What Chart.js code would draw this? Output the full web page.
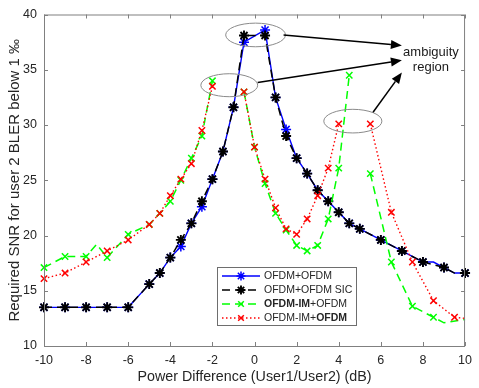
<!DOCTYPE html>
<html><head><meta charset="utf-8">
<script src="https://cdn.jsdelivr.net/npm/chart.js@4.4.1/dist/chart.umd.min.js"></script>
<style>html,body{margin:0;padding:0;background:#fff;}canvas{display:block;}</style>
</head><body>
<canvas id="c" width="479" height="388"></canvas>
<script>
// ---------------- data ----------------
const xTicks = [-10, -8, -6, -4, -2, 0, 2, 4, 6, 8, 10];
const yTicks = [10, 15, 20, 25, 30, 35, 40];

const seriesLabels = ['OFDM+OFDM', 'OFDM+OFDM SIC', '**OFDM-IM**+OFDM', 'OFDM-IM+**OFDM**'];

const blueX = [-10,-9,-8,-7,-6,-5,-4.5,-4,-3.5,-3,-2.5,-2,-1.5,-1,-0.5,0.5,1,1.5,2,2.5,3,3.5,4,4.5,5,6,7,8,8.5,9,9.5,10];
const blueY = [13.5,13.5,13.5,13.5,13.5,15.6,16.6,18.0,19.0,21.1,22.6,25.1,27.6,31.6,37.5,38.6,32.5,29.6,27.0,25.6,24.1,23.1,22.1,21.1,20.6,19.6,18.6,17.6,17.6,17.1,16.6,16.6];
const blueUnmarked = [8.5, 9.5];

const blackX = [-10,-9,-8,-7,-6,-5,-4.5,-4,-3.5,-3,-2.5,-2,-1.5,-1,-0.5,0.5,1,1.5,2,2.5,3,3.5,4,4.5,5,6,7,8,9,9.5,10];
const blackY = [13.5,13.5,13.5,13.5,13.5,15.6,16.6,18.0,19.6,21.1,23.1,25.1,27.6,31.6,38.1,38.1,32.5,29.0,27.0,25.6,24.1,23.1,22.1,21.1,20.6,19.6,18.6,17.6,17.1,16.6,16.6];
const blackUnmarked = [9.5];

const greenX = [-10,-9,-8,-7.5,-7,-6,-5,-4.5,-4,-3.5,-3,-2.5,-2,-1,-0.5,0,0.5,1,1.5,2,2.5,3,3.5,4,4.5,5,5.5,6.5,7.5,8.5,9,10];
const greenY = [17.1,18.1,18.1,19.2,18.0,20.1,21.0,22.0,23.1,25.0,27.0,29.0,34.0,null,33.0,28.0,24.7,22.0,20.5,19.1,18.6,19.1,21.5,26.1,34.5,null,25.6,17.6,13.6,12.6,12.1,12.4];
const greenUnmarked = [-7.5, 9, 10];

const redX = [-10,-9,-8,-7,-6,-5,-4.5,-4,-3.5,-3,-2.5,-2,-1,-0.5,0,0.5,1,1.5,2,2.5,3,3.5,4,5,5.5,6.5,7.5,8.5,9.5,10];
const redY = [16.1,16.6,17.6,18.6,19.6,21.0,22.0,23.6,25.1,26.5,29.5,33.5,null,33.0,28.0,25.1,22.5,20.6,20.1,21.5,23.6,26.1,30.1,null,30.1,22.1,17.6,14.1,12.6,12.5];
const redUnmarked = [10];

// annotation geometry (data units)
const annotEllipses = [
  {x: 0.05, y: 38.15, rx: 1.42, ry: 1.07},
  {x: -1.2, y: 33.6, rx: 1.35, ry: 1.04},
  {x: 4.67, y: 30.35, rx: 1.38, ry: 1.07}
];
const annotArrows = [
  {x1: 1.38, y1: 38.15, x2: 7.0, y2: 37.2},
  {x1: 0.15, y1: 33.85, x2: 7.0, y2: 35.85},
  {x1: 5.63, y1: 31.15, x2: 7.0, y2: 34.75}
];
const annotTextLines = ['ambiguity', 'region'];
const annotTextAnchor = {x: 8.38, y: 36.6};

// ---------------- helpers ----------------
const FONT = "'Liberation Sans', Arial, Helvetica, sans-serif";
const AXIS_COLOR = '#808080';
const TEXT_COLOR = '#262626';
const mk = (xs, ys) => xs.map((x, i) => ({x: x, y: ys[i]}));
const radiusFn = (unmarked, r) => ctx => (ctx.raw && unmarked.includes(ctx.raw.x)) ? 0 : r;

const framePlugin = {
  id: 'frame',
  afterDraw(chart) {
    const {ctx, chartArea: a, scales} = chart;
    ctx.save();
    ctx.strokeStyle = AXIS_COLOR;
    ctx.lineWidth = 1;
    ctx.strokeRect(a.left + 0.5, a.top + 0.5, a.right - a.left - 1, a.bottom - a.top);
    const tl = 4;
    ctx.beginPath();
    xTicks.forEach(v => {
      const px = Math.round(scales.x.getPixelForValue(v)) + 0.5;
      ctx.moveTo(px, a.bottom); ctx.lineTo(px, a.bottom - tl);
      ctx.moveTo(px, a.top); ctx.lineTo(px, a.top + tl);
    });
    yTicks.forEach(v => {
      const py = Math.round(scales.y.getPixelForValue(v)) + 0.5;
      ctx.moveTo(a.left, py); ctx.lineTo(a.left + tl, py);
      ctx.moveTo(a.right, py); ctx.lineTo(a.right - tl, py);
    });
    ctx.stroke();
    ctx.restore();
  }
};

function drawRich(ctx, text, x, y, size) {
  const parts = text.split('**');
  let cx = x;
  parts.forEach((p, i) => {
    if (!p) return;
    ctx.font = (i % 2 === 1 ? 'bold ' : '') + size + 'px ' + FONT;
    ctx.fillText(p, cx, y);
    cx += ctx.measureText(p).width;
  });
}

const annotPlugin = {
  id: 'annot',
  afterDraw(chart) {
    const {ctx, scales} = chart;
    const X = v => scales.x.getPixelForValue(v);
    const Y = v => scales.y.getPixelForValue(v);
    ctx.save();
    // ellipses
    ctx.strokeStyle = '#8a8a8a';
    ctx.lineWidth = 1;
    annotEllipses.forEach(e => {
      const cx = X(e.x), cy = Y(e.y);
      const rx = Math.abs(X(e.x + e.rx) - cx), ry = Math.abs(Y(e.y + e.ry) - cy);
      ctx.beginPath();
      ctx.ellipse(cx, cy, rx, ry, 0, 0, Math.PI * 2);
      ctx.stroke();
    });
    // arrows
    ctx.strokeStyle = '#000';
    ctx.fillStyle = '#000';
    ctx.lineWidth = 1.5;
    annotArrows.forEach(a => {
      const x1 = X(a.x1), y1 = Y(a.y1), x2 = X(a.x2), y2 = Y(a.y2);
      const ang = Math.atan2(y2 - y1, x2 - x1);
      const hl = 11, hw = 4.5;
      const bx = x2 - hl * Math.cos(ang), by = y2 - hl * Math.sin(ang);
      ctx.beginPath(); ctx.moveTo(x1, y1); ctx.lineTo(bx, by); ctx.stroke();
      ctx.beginPath();
      ctx.moveTo(x2, y2);
      ctx.lineTo(bx + hw * Math.sin(ang), by - hw * Math.cos(ang));
      ctx.lineTo(bx - hw * Math.sin(ang), by + hw * Math.cos(ang));
      ctx.closePath(); ctx.fill();
    });
    // text
    ctx.fillStyle = '#1a1a1a';
    ctx.font = '13px ' + FONT;
    ctx.textAlign = 'center';
    ctx.textBaseline = 'middle';
    const tx = X(annotTextAnchor.x), ty = Y(annotTextAnchor.y);
    annotTextLines.forEach((t, i) => ctx.fillText(t, tx, ty + i * 15.5));

    // legend
    const lx = 217, ly = 267, lw = 139, lh = 58;
    ctx.fillStyle = '#fff';
    ctx.fillRect(lx, ly, lw, lh);
    ctx.strokeStyle = '#6e6e6e';
    ctx.lineWidth = 1;
    ctx.strokeRect(lx + 0.5, ly + 0.5, lw, lh);
    ctx.textAlign = 'left';
    ctx.textBaseline = 'middle';
    chart.data.datasets.forEach((ds, i) => {
      const ry = ly + 9 + i * 14;
      ctx.save();
      ctx.strokeStyle = ds.borderColor;
      ctx.lineWidth = ds.borderWidth;
      ctx.setLineDash(ds.borderDash || []);
      ctx.beginPath(); ctx.moveTo(lx + 5, ry); ctx.lineTo(lx + 43, ry); ctx.stroke();
      ctx.setLineDash([]);
      ctx.strokeStyle = ds.pointBorderColor;
      ctx.fillStyle = 'rgba(0,0,0,0)';
      ctx.lineWidth = ds.pointBorderWidth;
      Chart.helpers.drawPoint(ctx, {pointStyle: ds.pointStyle, radius: ds.legendRadius, borderWidth: ds.pointBorderWidth, rotation: 0}, lx + 24, ry);
      ctx.restore();
      ctx.fillStyle = TEXT_COLOR;
      drawRich(ctx, seriesLabels[i], lx + 47, ry + 0.5, 10.5);
    });
    ctx.restore();
  }
};

new Chart(document.getElementById('c'), {
  type: 'line',
  data: {
    datasets: [
      {label: seriesLabels[0].replace(/\*\*/g, ''), data: mk(blueX, blueY), borderColor: '#0000ff', borderWidth: 1.4,
       pointStyle: 'star', pointRadius: radiusFn(blueUnmarked, 5), legendRadius: 4.5, pointBorderColor: '#0000ff', pointBorderWidth: 1.5,
       pointBackgroundColor: '#0000ff', order: 3, clip: false},
      {label: seriesLabels[1].replace(/\*\*/g, ''), data: mk(blackX, blackY), borderColor: '#000000', borderWidth: 1.5, borderDash: [8, 5],
       pointStyle: 'star', pointRadius: radiusFn(blackUnmarked, 5), legendRadius: 4.5, pointBorderColor: '#000000', pointBorderWidth: 1.9,
       pointBackgroundColor: '#000000', order: 2, clip: false},
      {label: seriesLabels[2].replace(/\*\*/g, ''), data: mk(greenX, greenY), borderColor: '#00ff00', borderWidth: 1.5, borderDash: [8, 5],
       pointStyle: 'crossRot', pointRadius: radiusFn(greenUnmarked, 4.5), legendRadius: 4, pointBorderColor: '#00ff00', pointBorderWidth: 1.5,
       pointBackgroundColor: '#00ff00', order: 1, clip: false},
      {label: seriesLabels[3].replace(/\*\*/g, ''), data: mk(redX, redY), borderColor: '#ff0000', borderWidth: 1.4, borderDash: [1.5, 2.5],
       pointStyle: 'crossRot', pointRadius: radiusFn(redUnmarked, 4.5), legendRadius: 4, pointBorderColor: '#ff0000', pointBorderWidth: 1.5,
       pointBackgroundColor: '#ff0000', order: 0, clip: false}
    ]
  },
  options: {
    responsive: false,
    animation: false,
    devicePixelRatio: 1,
    spanGaps: false,
    layout: {padding: {left: 0, right: 10, top: 10, bottom: 0}},
    elements: {line: {tension: 0}},
    plugins: {legend: {display: false}, tooltip: {enabled: false}},
    scales: {
      x: {
        type: 'linear', min: -10, max: 10,
        afterBuildTicks: s => { s.ticks = xTicks.map(v => ({value: v})); },
        afterFit: s => { s.height = 42; },
        grid: {display: false, drawTicks: false},
        border: {display: false},
        ticks: {padding: 7, color: TEXT_COLOR, font: {family: FONT, size: 12.5}, maxRotation: 0, autoSkip: false, callback: v => String(v)},
        title: {display: true, text: 'Power Difference (User1/User2) (dB)', color: TEXT_COLOR, font: {family: FONT, size: 14.3}, padding: {top: 0, bottom: 2}}
      },
      y: {
        type: 'linear', min: 10, max: 40,
        afterBuildTicks: s => { s.ticks = yTicks.map(v => ({value: v})); },
        afterFit: s => { s.width = 44; },
        grid: {display: false, drawTicks: false},
        border: {display: false},
        ticks: {padding: 7, color: TEXT_COLOR, font: {family: FONT, size: 12.5}, autoSkip: false, callback: v => String(v)},
        title: {display: true, text: 'Required SNR for user 2 BLER below 1 ‰', color: TEXT_COLOR, font: {family: FONT, size: 15}, padding: {top: 6, bottom: 0}}
      }
    }
  },
  plugins: [framePlugin, annotPlugin]
});
</script>
</body></html>
